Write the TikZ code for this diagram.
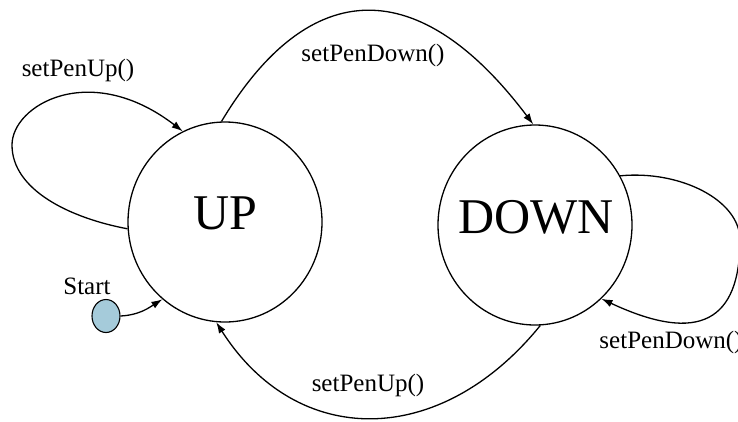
\documentclass[tikz,border=0pt]{standalone}
\usepackage{fontspec}
\setmainfont{Liberation Serif}
\usetikzlibrary{arrows.meta,shapes.geometric}
\definecolor{startblue}{RGB}{165,203,218}
\begin{document}
\begin{tikzpicture}[x=1pt,y=-1pt,
  state/.style={ellipse,draw,line width=1.3pt,minimum width=194pt,minimum height=200pt,inner sep=0pt},
  statetext/.style={font=\fontsize{50}{50}\selectfont,inner sep=0pt},
  edge/.style={line width=1.3pt,-{Latex[length=11pt,width=7.5pt]}},
  lbl/.style={font=\fontsize{25}{25}\selectfont,inner sep=0pt}]
\useasboundingbox (0,0) rectangle (738,421);
\node[state] (up) at (225,222) {};
\node[state] (down) at (535,225) {};
\node[statetext] (uptext) at (225,213) {UP};
\node[statetext] (downtext) at (536,217) {DOWN};
\node[ellipse,draw,line width=1.1pt,fill=startblue,minimum width=28pt,minimum height=33pt,inner sep=0pt] (start) at (106,316) {};
\node[lbl] (l1) at (78,70) {setPenUp()};
\node[lbl] (l2) at (373,55) {setPenDown()};
\node[lbl] (l3) at (671,342) {setPenDown()};
\node[lbl] (l4) at (368,385) {setPenUp()};
\node[lbl] (l5) at (87,286) {Start};
\draw[edge] (up.184) .. controls (70,218) and (12,190) .. (12,145) .. controls (12,105) and (90,60) .. (up.115);
\draw[edge] (up.92) .. controls (310,-26) and (420,-26) .. (down.91);
\draw[edge] (down.273) .. controls (440,449) and (297,449) .. (up.265);
\draw[edge] (down.30) .. controls (680,170) and (740,200) .. (740,240) .. controls (740,320) and (700,345) .. (down.312);
\draw[edge] (start.east) .. controls (140,315) and (150,307) .. (up.231);
\end{tikzpicture}
\end{document}
